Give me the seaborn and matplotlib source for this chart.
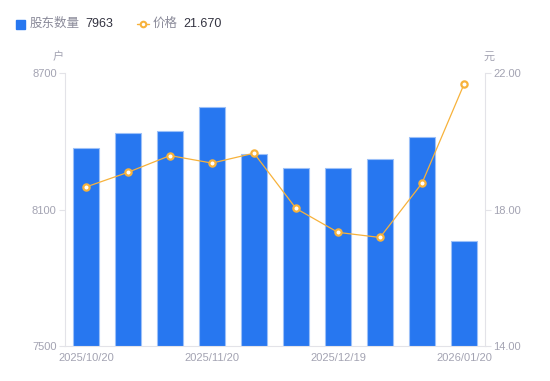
import numpy as np
import pandas as pd
import matplotlib
matplotlib.use("Agg")
import matplotlib.pyplot as plt
from matplotlib.lines import Line2D
import seaborn as sns

# data
dates = ["2025/10/20", "2025/10/31", "2025/11/10", "2025/11/20", "2025/11/28",
         "2025/12/10", "2025/12/19", "2025/12/31", "2026/01/09", "2026/01/20"]
holders = [8370, 8436, 8445, 8549, 8343, 8281, 8283, 8324, 8418, 7963]
prices = [18.66, 19.09, 19.58, 19.36, 19.65, 18.03, 17.33, 17.18, 18.77, 21.67]
shown_ticks = [0, 3, 6, 9]

sns.set_style("white")
plt.rcParams["font.family"] = ["Liberation Sans", "Noto Sans CJK SC", "DejaVu Sans"]

bar_color = "#2777f0"
line_color = "#f7b23b"
tick_color = "#a3a3b2"
spine_color = "#e3e3e8"

df = pd.DataFrame({"date": dates, "holders": holders, "price": prices})

fig = plt.figure(figsize=(5.5, 3.81), dpi=100)
ax = fig.add_axes([65 / 550, 35 / 381, 420 / 550, 273 / 381])

sns.barplot(data=df, x="date", y="holders", ax=ax, color=bar_color,
            width=0.6, saturation=1, edgecolor="#9cc0f8", linewidth=0.8)
ax.set_ylim(7500, 8700)
ax.set_yticks([7500, 8100, 8700])
ax.set_xlim(-0.5, 9.5)
ax.set_xticks(shown_ticks)
ax.set_xticklabels([dates[i] for i in shown_ticks])
ax.set_xlabel("")
ax.set_ylabel("")
ax.tick_params(axis="x", length=0, labelsize=8, labelcolor=tick_color, pad=5)
ax.tick_params(axis="y", length=4, width=0.8, color=spine_color,
               labelsize=8, labelcolor=tick_color, pad=2)
for s in ["top", "right"]:
    ax.spines[s].set_visible(False)
for s in ["left", "bottom"]:
    ax.spines[s].set_color(spine_color)
    ax.spines[s].set_linewidth(0.8)

ax2 = ax.twinx()
sns.lineplot(x=np.arange(len(prices)), y=prices, ax=ax2, color=line_color,
             linewidth=0.9, marker="o", markersize=4.5, markerfacecolor="white",
             markeredgecolor=line_color, markeredgewidth=1.6)
ax2.set_ylim(14, 22)
ax2.set_yticks([14, 18, 22])
ax2.set_yticklabels(["14.00", "18.00", "22.00"])
ax2.set_xlim(-0.5, 9.5)
ax2.tick_params(axis="y", length=4, width=0.8, color=spine_color,
                labelsize=8, labelcolor=tick_color, pad=2)
for s in ["top", "left", "bottom"]:
    ax2.spines[s].set_visible(False)
ax2.spines["right"].set_color(spine_color)
ax2.spines["right"].set_linewidth(0.8)

# unit labels
fig.text(58 / 550, 1 - 57 / 381, "户", color=tick_color, fontsize=8, ha="center", va="center")
fig.text(489 / 550, 1 - 57 / 381, "元", color=tick_color, fontsize=8, ha="center", va="center")

# legend row
fig.patches.append(plt.Rectangle((16 / 550, 1 - 29 / 381), 9 / 550, 9 / 381,
                                 transform=fig.transFigure, color=bar_color))
fig.text(30 / 550, 1 - 24 / 381, "股东数量", color="#8a8a99", fontsize=9, va="center")
fig.text(85 / 550, 1 - 24 / 381, "7963", color="#333340", fontsize=9, va="center")
fig.lines.append(Line2D([137 / 550, 143 / 550, 149 / 550], [1 - 24 / 381] * 3,
                        transform=fig.transFigure, color=line_color, linewidth=1,
                        marker="o", markersize=4, markevery=[1],
                        markerfacecolor="white", markeredgecolor=line_color,
                        markeredgewidth=1.5))
fig.text(153 / 550, 1 - 24 / 381, "价格", color="#8a8a99", fontsize=9, va="center")
fig.text(183 / 550, 1 - 24 / 381, "21.670", color="#333340", fontsize=9, va="center")

fig.savefig("out.png", dpi=100)
